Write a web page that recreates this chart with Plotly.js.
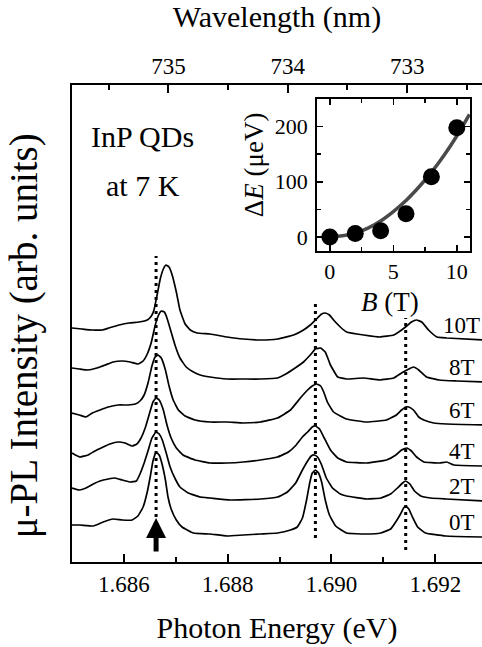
<!DOCTYPE html>
<html><head><meta charset="utf-8">
<script src="https://cdn.plot.ly/plotly-3.0.1.min.js"></script>
<style>html,body{margin:0;padding:0;background:#fff;} #chart{width:482px;height:647px;}</style>
</head><body><div id="chart"></div>
<script>
// ---- data ----
const fields = ["0T","2T","4T","6T","8T","10T"];

const e0T = [1.68500,1.68515,1.68541,1.68560,1.68579,1.68597,1.68616,1.68627,1.68637,1.68645,1.68651,1.68656,1.68662,1.68668,1.68674,1.68680,1.68685,1.68691,1.68701,1.68712,1.68734,1.68766,1.68799,1.68830,1.68863,1.68896,1.68921,1.68934,1.68944,1.68952,1.68958,1.68963,1.68969,1.68975,1.68981,1.68988,1.68996,1.69008,1.69029,1.69066,1.69095,1.69114,1.69125,1.69133,1.69139,1.69143,1.69149,1.69156,1.69166,1.69181,1.69220,1.69292];
const i0T = [37,37,36,40,43,42,42,46,55,70,86,101,110,107,97,82,65,53,42,35,29,28,26,27,28,29,32,35,44,62,79,89,92,89,80,62,47,36,29,28,29,33,41,48,54,56,53,45,35,29,26,25];

const e2T = [1.68500,1.68514,1.68527,1.68541,1.68554,1.68570,1.68583,1.68597,1.68612,1.68624,1.68631,1.68639,1.68647,1.68654,1.68662,1.68668,1.68674,1.68681,1.68689,1.68699,1.68708,1.68724,1.68747,1.68766,1.68805,1.68863,1.68896,1.68915,1.68931,1.68944,1.68954,1.68961,1.68967,1.68973,1.68981,1.68990,1.69002,1.69017,1.69029,1.69068,1.69095,1.69114,1.69127,1.69137,1.69143,1.69151,1.69160,1.69172,1.69191,1.69220,1.69292];
const i2T = [74,72,74,78,81,83,84,82,80,81,88,99,112,124,130,128,122,110,95,83,75,69,65,64,62,63,65,70,79,92,101,106,107,105,97,84,74,68,66,63,64,68,74,79,81,78,71,66,64,63,61];

const e4T = [1.68500,1.68515,1.68531,1.68544,1.68560,1.68573,1.68589,1.68602,1.68616,1.68625,1.68633,1.68641,1.68649,1.68656,1.68662,1.68668,1.68676,1.68683,1.68691,1.68701,1.68714,1.68737,1.68766,1.68799,1.68830,1.68863,1.68896,1.68917,1.68932,1.68944,1.68954,1.68963,1.68969,1.68977,1.68986,1.68998,1.69012,1.69029,1.69068,1.69106,1.69124,1.69135,1.69145,1.69154,1.69164,1.69178,1.69208,1.69222,1.69236,1.69292];
const i4T = [109,105,107,111,115,118,120,119,116,118,124,134,148,160,164,162,152,137,124,114,107,102,99,99,100,102,105,110,117,125,130,135,136,133,124,112,104,100,99,102,107,112,114,111,105,100,99,100,97,96];

const e6T = [1.68500,1.68514,1.68527,1.68539,1.68554,1.68570,1.68589,1.68608,1.68622,1.68631,1.68639,1.68647,1.68654,1.68660,1.68666,1.68672,1.68680,1.68687,1.68695,1.68705,1.68718,1.68737,1.68766,1.68799,1.68830,1.68863,1.68896,1.68921,1.68940,1.68954,1.68963,1.68971,1.68979,1.68985,1.68992,1.69004,1.69029,1.69068,1.69106,1.69125,1.69135,1.69143,1.69149,1.69158,1.69168,1.69178,1.69197,1.69222,1.69292];
const i6T = [149,147,145,149,152,155,157,157,158,161,167,180,196,205,207,204,192,176,162,152,146,142,140,140,139,140,144,152,164,172,176,178,176,170,160,150,143,140,142,147,152,155,155,152,145,142,139,138,137];

const e8T = [1.68500,1.68514,1.68531,1.68548,1.68564,1.68579,1.68597,1.68612,1.68627,1.68637,1.68645,1.68653,1.68660,1.68666,1.68672,1.68678,1.68683,1.68691,1.68699,1.68708,1.68720,1.68734,1.68747,1.68766,1.68799,1.68830,1.68863,1.68896,1.68912,1.68927,1.68946,1.68959,1.68969,1.68979,1.68988,1.68998,1.69012,1.69029,1.69062,1.69093,1.69120,1.69135,1.69149,1.69158,1.69168,1.69183,1.69208,1.69241,1.69292];
const i8T = [194,193,192,194,197,200,201,200,198,201,208,220,236,246,251,250,244,230,216,204,195,190,187,185,183,183,183,184,188,193,200,207,213,214,210,197,185,183,184,182,184,189,193,195,192,185,182,181,180];

const e10T = [1.68500,1.68519,1.68539,1.68558,1.68571,1.68591,1.68610,1.68629,1.68645,1.68653,1.68658,1.68664,1.68670,1.68676,1.68681,1.68687,1.68693,1.68701,1.68708,1.68718,1.68728,1.68741,1.68766,1.68799,1.68830,1.68863,1.68896,1.68927,1.68946,1.68959,1.68973,1.68981,1.68988,1.68996,1.69004,1.69017,1.69029,1.69062,1.69093,1.69120,1.69135,1.69145,1.69154,1.69164,1.69174,1.69187,1.69203,1.69222,1.69292];
const i10T = [234,233,232,232,234,237,239,240,242,246,252,267,283,293,297,295,287,270,252,238,232,229,228,225,223,222,223,227,232,237,244,248,249,247,242,235,230,227,225,227,232,236,240,242,240,232,225,224,222];

const peakE = [1.68662, 1.68969, 1.69143];       // 0 T peak positions (dotted guides)
const peakTop = [306, 259, 244];
const peakBottom = [45, 24, 12];

const energyTicks = [1.686, 1.688, 1.690, 1.692];
const energyMinor = [1.687, 1.689, 1.691];
const wlMajor = [735, 734, 733];
const wlMinor = [735.5, 734.5, 733.5, 732.5];
const HC = 1239.84; // eV nm

const insetB = [0, 2, 4, 6, 8, 10];
const insetDE = [0, 6, 11, 42, 109, 198];
const fitB = [0,1,2,3,4,5,6,7,8,9,10,11];
const fitDE = [0,2,7,16,29,46,66,90,117,148,183,222];

// ---- figure ----
const SERIF = "Liberation Serif, Times New Roman, serif";
const E = [e0T,e2T,e4T,e6T,e8T,e10T];
const I = [i0T,i2T,i4T,i6T,i8T,i10T];

const traces = [];
fields.forEach((f,k)=>{
  traces.push({x:E[k], y:I[k], type:'scatter', mode:'lines', name:f,
    line:{color:'#000', width:1.7, shape:'spline', smoothing:0.35},
    hoverinfo:'skip', xaxis:'x', yaxis:'y'});
});
traces.push({x:wlMajor.map(l=>HC/l), y:wlMajor.map(()=>null), type:'scatter', mode:'lines',
  xaxis:'x2', yaxis:'y', hoverinfo:'skip', showlegend:false});
traces.push({x:fitB, y:fitDE, type:'scatter', mode:'lines', xaxis:'x3', yaxis:'y3',
  line:{color:'#4a4a4a', width:3.5, shape:'spline'}, hoverinfo:'skip'});
traces.push({x:insetB, y:insetDE, type:'scatter', mode:'markers', xaxis:'x3', yaxis:'y3',
  marker:{color:'#000', size:17}, hoverinfo:'skip'});

const shapes = peakE.map((e,k)=>({type:'line', xref:'x', yref:'y', x0:e, x1:e,
  y0:peakBottom[k], y1:peakTop[k], line:{color:'#000', width:3, dash:'3px,4px'}}));

const C = {xanchor:'center', yanchor:'middle', showarrow:false};
const annotations = [
  Object.assign({xref:'paper', yref:'paper', x:0.172, y:0.891, text:'InP QDs', font:{size:30}}, C),
  Object.assign({xref:'paper', yref:'paper', x:0.172, y:0.790, text:'at 7 K', font:{size:30}}, C),
  {xref:'x', yref:'y', x:peakE[0], y:peakBottom[0]-1, ax:0, ay:35, text:'', showarrow:true,
   arrowhead:2, arrowwidth:5, arrowsize:0.8, arrowcolor:'#000'},
  Object.assign({xref:'paper', yref:'paper', x:0.444, y:0.832, text:'Δ<i>E</i> (μeV)', textangle:-90, font:{size:27}}, C),
  Object.assign({xref:'paper', yref:'paper', x:0.776, y:0.545, text:'<i>B</i> (T)', font:{size:27}}, C),
  Object.assign({xref:'paper', yref:'paper', x:-0.1185, y:0.474, text:'μ-PL Intensity (arb. units)', textangle:-90, font:{size:39}}, C)
];
fields.forEach((f,k)=>{
  annotations.push(Object.assign({xref:'x', yref:'y', x:1.69251, y:I[k][I[k].length-1]+15, text:f,
    font:{size:23}}, C));
});

const axBase = {showgrid:false, zeroline:false, linecolor:'#000', tickcolor:'#000'};
const layout = {
  width:482, height:647,
  margin:{l:72, r:0, t:85, b:85},
  paper_bgcolor:'#fff', plot_bgcolor:'#fff',
  showlegend:false,
  font:{family:SERIF, color:'#000', size:23},
  xaxis:Object.assign({}, axBase, {range:[1.685,1.6929], showline:true, linewidth:2, mirror:true,
    ticks:'inside', ticklen:8, tickwidth:2, tickmode:'array', tickvals:energyTicks,
    ticktext:energyTicks.map(v=>v.toFixed(3)), ticklabelstandoff:0,
    minor:{tickmode:'array', tickvals:energyMinor, ticks:'inside', ticklen:5, tickwidth:2, tickcolor:'#000'},
    tickfont:{size:23}, title:{text:'Photon Energy (eV)', font:{size:30}, standoff:21}}),
  xaxis2:Object.assign({}, axBase, {overlaying:'x', side:'top', anchor:'y', range:[1.685,1.6929],
    showline:false, ticks:'inside', ticklen:8, tickwidth:2, tickmode:'array',
    tickvals:wlMajor.map(l=>HC/l), ticktext:wlMajor.map(String), ticklabelstandoff:5,
    minor:{tickmode:'array', tickvals:wlMinor.map(l=>HC/l), ticks:'inside', ticklen:5, tickwidth:2, tickcolor:'#000'},
    tickfont:{size:23}, title:{text:'Wavelength (nm)', font:{size:30}, standoff:23}}),
  yaxis:Object.assign({}, axBase, {range:[0,477], showline:true, linewidth:2, ticks:'',
    showticklabels:false}),
  xaxis3:Object.assign({}, axBase, {domain:[0.598,0.971], anchor:'y3', range:[-1,11.05],
    showline:true, linewidth:2, mirror:'allticks', ticks:'inside', ticklen:6, tickwidth:1.5,
    tickmode:'array', tickvals:[0,5,10], ticklabelstandoff:0,
    minor:{dtick:2.5, tick0:0, ticks:'inside', ticklen:4, tickwidth:1.5, tickcolor:'#000'},
    tickfont:{size:22}}),
  yaxis3:Object.assign({}, axBase, {domain:[0.6526,0.9706], anchor:'x3', range:[-25,250],
    showline:true, linewidth:2, mirror:'allticks', ticks:'inside', ticklen:6, tickwidth:1.5,
    tickmode:'array', tickvals:[0,100,200], ticklabelstandoff:3,
    minor:{dtick:50, tick0:0, ticks:'inside', ticklen:4, tickwidth:1.5, tickcolor:'#000'},
    tickfont:{size:22}}),
  shapes:shapes,
  annotations:annotations
};
Plotly.newPlot('chart', traces, layout, {staticPlot:true, displayModeBar:false});
</script>
</body></html>
